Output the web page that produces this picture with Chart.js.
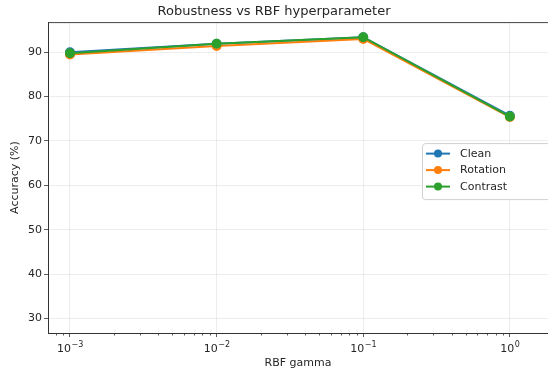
<!DOCTYPE html>
<html>
<head>
<meta charset="utf-8">
<script src="https://cdn.jsdelivr.net/npm/chart.js@4"></script>
<style>
  html, body { margin: 0; padding: 0; background: #fff; }
  #wrap { width: 548px; height: 371px; }
</style>
</head>
<body>
<div id="wrap"><canvas id="chart"></canvas></div>
<script>
// data
const gammas = [0.001, 0.01, 0.1, 1];
const cleanAcc = [90.0, 91.9, 93.4, 75.7];
const rotationAcc = [89.5, 91.4, 93.0, 75.4];
const contrastAcc = [89.8, 91.9, 93.4, 75.5];
const seriesNames = ['Clean', 'Rotation', 'Contrast'];
const seriesColors = ['#1f77b4', '#ff7f0e', '#2ca02c'];
const yTicks = [30, 40, 50, 60, 70, 80, 90];

const FONT = 'DejaVu Sans';

function toPoints(vals){
  return gammas.map((g, i) => ({x: g, y: vals[i]}));
}

// minor ticks, top spine and 10^n labels drawn by hand, like matplotlib
const logAxisExtras = {
  id: 'logAxisExtras',
  afterDraw(chart){
    const sx = chart.scales.x, ctx = chart.ctx, area = chart.chartArea;
    ctx.save();
    ctx.strokeStyle = '#333';
    ctx.lineWidth = 0.8;
    sx.ticks.forEach(t => {
      if(t.major) return;
      const px = Math.round(sx.getPixelForValue(t.value)) + 0.5;
      if(px < area.left || px > area.right) return;
      ctx.beginPath();
      ctx.moveTo(px, area.bottom);
      ctx.lineTo(px, area.bottom + 2.5);
      ctx.stroke();
    });
    ctx.strokeStyle = '#444';
    ctx.lineWidth = 1;
    ctx.beginPath();
    ctx.moveTo(area.left, area.top + 0.5);
    ctx.lineTo(area.right, area.top + 0.5);
    ctx.stroke();

    // major labels: "10" with a raised exponent
    ctx.fillStyle = '#262626';
    ctx.textBaseline = 'alphabetic';
    sx.ticks.forEach(t => {
      if(!t.major) return;
      const px = sx.getPixelForValue(t.value);
      const e = Math.round(Math.log10(t.value));
      const expTxt = e < 0 ? '\u2212' + Math.abs(e) : String(e);
      ctx.font = '11px "' + FONT + '"';
      const w1 = ctx.measureText('10').width;
      ctx.font = '8px "' + FONT + '"';
      const w2 = ctx.measureText(expTxt).width;
      const x0 = px - (w1 + w2) / 2;
      const base = area.bottom + 18.5;
      ctx.font = '11px "' + FONT + '"';
      ctx.textAlign = 'left';
      ctx.fillText('10', x0, base);
      ctx.font = '8px "' + FONT + '"';
      ctx.fillText(expTxt, x0 + w1 + 0.5, base - 5);
    });
    ctx.restore();
  }
};

// legend drawn inside the axes, right side
const innerLegend = {
  id: 'innerLegend',
  afterDraw(chart){
    const ctx = chart.ctx, area = chart.chartArea;
    const left = area.right - 126, top = area.top + 121;
    const w = 130, h = 56, row = 16.5;
    ctx.save();
    ctx.fillStyle = 'rgba(255,255,255,0.85)';
    ctx.strokeStyle = '#d0d0d0';
    ctx.lineWidth = 1;
    ctx.beginPath();
    ctx.roundRect(left + 0.5, top + 0.5, w, h, 3);
    ctx.fill();
    ctx.stroke();
    ctx.font = '11px "' + FONT + '"';
    ctx.textBaseline = 'middle';
    chart.data.datasets.forEach((ds, i) => {
      const y = top + 10.5 + i * row;
      ctx.strokeStyle = ds.borderColor;
      ctx.lineWidth = 2;
      ctx.beginPath();
      ctx.moveTo(left + 4, y);
      ctx.lineTo(left + 28, y);
      ctx.stroke();
      ctx.fillStyle = ds.borderColor;
      ctx.beginPath();
      ctx.arc(left + 16, y, 4, 0, Math.PI * 2);
      ctx.fill();
      ctx.fillStyle = '#262626';
      ctx.fillText(ds.label, left + 38, y + 0.5);
    });
    ctx.restore();
  }
};

const allSeries = [cleanAcc, rotationAcc, contrastAcc];
const datasets = allSeries.map((vals, i) => ({
  label: seriesNames[i],
  data: toPoints(vals),
  borderColor: seriesColors[i],
  backgroundColor: seriesColors[i],
  pointBackgroundColor: seriesColors[i],
  pointBorderColor: seriesColors[i],
  pointRadius: 4,
  borderWidth: 2,
  tension: 0,
  order: 2 - i
}));

new Chart(document.getElementById('chart'), {
  type: 'line',
  data: { datasets },
  plugins: [logAxisExtras, innerLegend],
  options: {
    responsive: true,
    maintainAspectRatio: false,
    animation: false,
    layout: { padding: 0, autoPadding: false },
    plugins: {
      legend: { display: false },
      tooltip: { enabled: false },
      title: {
        display: true,
        text: 'Robustness vs RBF hyperparameter',
        color: '#262626',
        font: { family: FONT, size: 13, weight: 'normal' },
        padding: { top: 3.5, bottom: 3 }
      }
    },
    scales: {
      x: {
        type: 'logarithmic',
        min: Math.pow(10, -3.15),
        max: Math.pow(10, 0.26),
        afterBuildTicks(scale){
          const ticks = [];
          for(let e = -4; e <= 0; e++){
            for(let m = 1; m <= 9; m++){
              const v = m * Math.pow(10, e);
              if(v >= scale.min && v <= scale.max) ticks.push({value: v, major: m === 1});
            }
          }
          scale.ticks = ticks;
        },
        afterFit(scale){
          scale.height = 38;
          scale.paddingLeft = 0;
          scale.paddingRight = 0;
        },
        border: { display: true, color: '#333', width: 1 },
        grid: {
          color: c => (c.tick && c.tick.major) ? 'rgba(0,0,0,0.09)' : 'rgba(0,0,0,0)',
          lineWidth: 0.8,
          tickColor: c => (c.tick && c.tick.major) ? '#333' : 'rgba(0,0,0,0)',
          tickLength: 4,
          tickWidth: 0.8
        },
        ticks: {
          autoSkip: false,
          maxRotation: 0,
          padding: 3,
          callback: () => ''
        },
        title: {
          display: true,
          text: 'RBF gamma',
          color: '#262626',
          font: { family: FONT, size: 11 },
          padding: { top: 0, bottom: 1.4 }
        }
      },
      y: {
        min: 26.7,
        max: 96.8,
        afterBuildTicks(scale){ scale.ticks = yTicks.map(v => ({value: v})); },
        afterFit(scale){
          scale.width = 48;
          scale.paddingTop = 0;
          scale.paddingBottom = 0;
        },
        border: { display: true, color: '#333', width: 1 },
        grid: {
          color: 'rgba(0,0,0,0.09)',
          lineWidth: 0.8,
          tickColor: '#333',
          tickLength: 4,
          tickWidth: 0.8
        },
        ticks: {
          padding: 2,
          color: '#262626',
          font: { family: FONT, size: 11 }
        },
        title: {
          display: true,
          text: 'Accuracy (%)',
          color: '#262626',
          font: { family: FONT, size: 11 },
          padding: { top: 9, bottom: 0 }
        }
      }
    }
  }
});
</script>
</body>
</html>
